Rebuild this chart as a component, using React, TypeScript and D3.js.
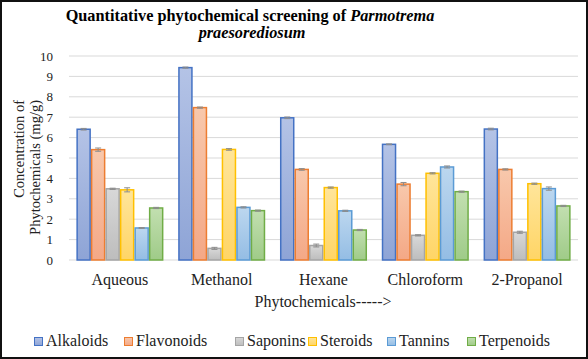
import React from "react";
import * as d3 from "d3";

const categories = ["Aqueous", "Methanol", "Hexane", "Chloroform", "2-Propanol"];
const seriesNames = ["Alkaloids", "Flavonoids", "Saponins", "Steroids", "Tannins", "Terpenoids"];
const alkaloids = [6.41, 9.43, 6.97, 5.67, 6.42];
const flavonoids = [5.41, 7.47, 4.44, 3.72, 4.44];
const saponins = [3.49, 0.57, 0.71, 1.21, 1.36];
const steroids = [3.44, 5.42, 3.55, 4.25, 3.74];
const tannins = [1.57, 2.58, 2.41, 4.56, 3.5];
const terpenoids = [2.55, 2.42, 1.47, 3.35, 2.65];
const alkaloidsErr = [0.04, 0.03, 0.04, 0.02, 0.04];
const flavonoidsErr = [0.08, 0.03, 0.04, 0.08, 0.03];
const saponinsErr = [0.03, 0.05, 0.07, 0.03, 0.05];
const steroidsErr = [0.1, 0.04, 0.03, 0.03, 0.03];
const tanninsErr = [0.02, 0.03, 0.03, 0.05, 0.08];
const terpenoidsErr = [0.03, 0.03, 0.03, 0.03, 0.03];
const yTicks = [0, 1, 2, 3, 4, 5, 6, 7, 8, 9, 10];

const seriesValues = [alkaloids, flavonoids, saponins, steroids, tannins, terpenoids];
const seriesErrs = [alkaloidsErr, flavonoidsErr, saponinsErr, steroidsErr, tanninsErr, terpenoidsErr];
const fillsTop = ["#b4c3e6", "#f8c8ac", "#d8d8d8", "#ffe59a", "#bcd7ef", "#c2dfb0"];
const fillsBottom = ["#8ea4d6", "#f4a886", "#bdbdbd", "#ffd566", "#94bde4", "#9fcb88"];
const strokes = ["#4472c4", "#ed7d31", "#a5a5a5", "#ffc000", "#5b9bd5", "#70ad47"];

const W = 588;
const H = 359;
const font = '"Liberation Serif", "DejaVu Serif", serif';
const ts: React.CSSProperties = { fontFamily: font };

export default function App() {
  const x0 = d3.scaleBand<string>().domain(categories).range([69, 578]).paddingInner(0.145).paddingOuter(0.0725);
  const x1 = d3.scaleBand<string>().domain(seriesNames).range([0, x0.bandwidth()]);
  const y = d3.scaleLinear().domain([0, 10]).range([260, 56]);

  const legendX = [34, 124, 235, 308, 387, 467];

  return (
    <svg width={W} height={H} style={{ position: "fixed", left: 0, top: 0, fontFamily: font }}>
      <defs>
        {seriesNames.map((s, i) => (
          <linearGradient key={s} id={`g${i}`} x1="0" y1="0" x2="0" y2="1">
            <stop offset="0%" stopColor={fillsTop[i]} />
            <stop offset="100%" stopColor={fillsBottom[i]} />
          </linearGradient>
        ))}
      </defs>
      <rect x={0} y={0} width={W} height={H} fill="#fff" />
      <rect x={1} y={1} width={W - 2} height={H - 2} fill="none" stroke="#111" strokeWidth={2} />

      <text x={250} y={20.5} textAnchor="middle" fontSize={16.3} fontWeight="bold" fill="#000" style={ts}>
        Quantitative phytochemical screening of <tspan fontStyle="italic">Parmotrema</tspan>
      </text>
      <text x={252} y={38} textAnchor="middle" fontSize={16.3} fontWeight="bold" fontStyle="italic" fill="#000" style={ts}>
        praesorediosum
      </text>

      {yTicks.map((t) => (
        <g key={t}>
          <line x1={69} x2={578} y1={y(t)} y2={y(t)} stroke="#d9d9d9" strokeWidth={1} />
          <text x={53} y={y(t) + 4.5} textAnchor="end" fontSize={13} fill="#222" style={ts}>
            {t}
          </text>
        </g>
      ))}

      <text transform="translate(24,100) rotate(-90)" textAnchor="end" fontSize={14.5} fill="#222" style={ts}>
        Concentration of
      </text>
      <text transform="translate(40,100) rotate(-90)" textAnchor="end" fontSize={14.5} fill="#222" style={ts}>
        Phytochemicals (mg/g)
      </text>

      {categories.map((c, ci) => (
        <g key={c} transform={`translate(${x0(c)},0)`}>
          {seriesNames.map((s, si) => {
            const v = seriesValues[si][ci];
            const e = seriesErrs[si][ci];
            const bx = x1(s)!;
            const bw = x1.bandwidth();
            const cx = bx + bw / 2;
            return (
              <g key={s}>
                <rect
                  x={bx + 0.75}
                  y={y(v)}
                  width={bw - 1.5}
                  height={y(0) - y(v)}
                  fill={`url(#g${si})`}
                  stroke={strokes[si]}
                  strokeWidth={1.5}
                />
                <line x1={cx} x2={cx} y1={y(v + e)} y2={y(v - e)} stroke="#8c8c8c" strokeWidth={1} />
                <line x1={cx - 3} x2={cx + 3} y1={y(v + e)} y2={y(v + e)} stroke="#8c8c8c" strokeWidth={1} />
                <line x1={cx - 3} x2={cx + 3} y1={y(v - e)} y2={y(v - e)} stroke="#8c8c8c" strokeWidth={1} />
              </g>
            );
          })}
          <text x={x0.bandwidth() / 2} y={284.5} textAnchor="middle" fontSize={16} fill="#222" style={ts}>
            {c}
          </text>
        </g>
      ))}

      <text x={323} y={307} textAnchor="middle" fontSize={16} fill="#222" style={ts}>
        Phytochemicals-----&gt;
      </text>

      {seriesNames.map((s, i) => (
        <g key={s}>
          <rect x={legendX[i] + 0.5} y={337.5} width={8} height={8} fill={`url(#g${i})`} stroke={strokes[i]} strokeWidth={1} />
          <text x={legendX[i] + 12} y={345.5} fontSize={16} fill="#222" style={ts}>
            {s}
          </text>
        </g>
      ))}
    </svg>
  );
}
